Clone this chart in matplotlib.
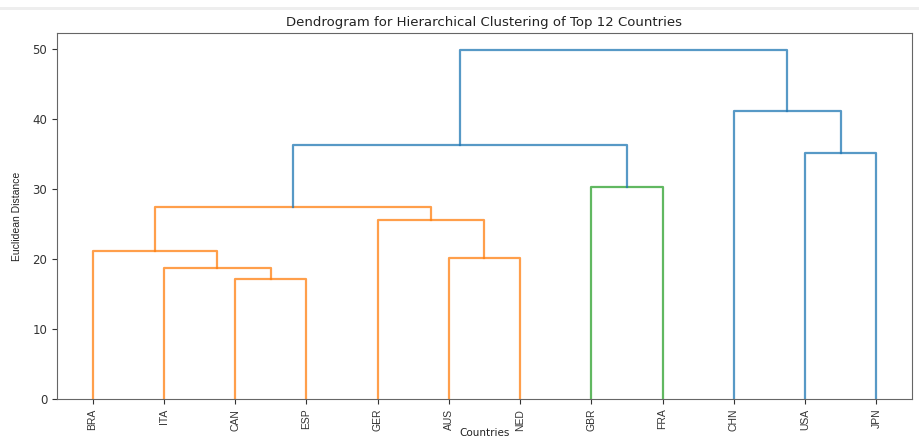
import matplotlib.pyplot as plt
from matplotlib.patches import Rectangle

# leaf order as shown on the x axis
labels = ['BRA', 'ITA', 'CAN', 'ESP', 'GER', 'AUS', 'NED', 'GBR', 'FRA', 'CHN', 'USA', 'JPN']

# merges in order: nodes 0..11 are leaves, merge k becomes node 12+k
merge_left = [2, 1, 0, 5, 4, 14, 7, 17, 10, 9, 19]
merge_right = [3, 12, 13, 6, 15, 16, 8, 18, 11, 20, 21]
merge_height = [17.2, 18.7, 21.2, 20.1, 25.6, 27.4, 30.3, 36.3, 35.2, 41.2, 49.8]
merge_color = ['C1', 'C1', 'C1', 'C1', 'C1', 'C1', 'C2', 'C0', 'C0', 'C0', 'C0']


def main():
    fig = plt.figure(figsize=(9.2, 4.38), dpi=100)
    fig.add_artist(Rectangle((0, 1 - 10 / 438), 1, 3 / 438, transform=fig.transFigure,
                             color='#eeeeee', lw=0))
    ax = fig.add_axes([57 / 920, 1 - 399 / 438, (912 - 57) / 920, (399 - 33) / 438])

    n = len(labels)
    pos = {i: 5 + 10 * i for i in range(n)}
    hgt = {i: 0.0 for i in range(n)}
    for k in range(len(merge_height)):
        a, b = merge_left[k], merge_right[k]
        h = merge_height[k]
        xa, xb = pos[a], pos[b]
        ax.plot([xa, xa, xb, xb], [hgt[a], h, h, hgt[b]], color=merge_color[k], lw=1.6, alpha=0.75)
        pos[n + k] = (xa + xb) / 2
        hgt[n + k] = h

    ax.set_xlim(0, 10 * n)
    ax.set_ylim(0, max(merge_height) * 1.05)
    ax.set_xticks([5 + 10 * i for i in range(n)])
    ax.set_xticklabels(labels, rotation=90, fontsize=7.5, family='Liberation Sans')
    ax.set_yticks([0, 10, 20, 30, 40, 50])
    ax.tick_params(axis='y', labelsize=8.5, colors='#333333')
    ax.tick_params(axis='x', colors='#333333')
    for s in ax.spines.values():
        s.set_color('#666666')
    ax.set_title('Dendrogram for Hierarchical Clustering of Top 12 Countries', fontsize=9.5, color='#222222', pad=5)
    ax.set_xlabel('Countries', fontsize=7.5, color='#222222', va='center')
    ax.xaxis.set_label_coords(0.5, -0.093)
    ax.set_ylabel('Euclidean Distance', fontsize=7.5, family='Liberation Sans', color='#222222', va='center')
    ax.yaxis.set_label_coords(-0.047, 0.5)
    fig.savefig('out.png', dpi=100)


if __name__ == "__main__":
    main()
